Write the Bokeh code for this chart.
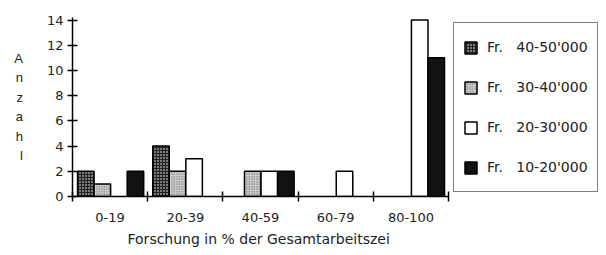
from bokeh.plotting import figure
from bokeh.models import FixedTicker, Legend, LegendItem, Title, Range1d, ColumnDataSource
from bokeh.embed import file_html
from bokeh.resources import INLINE

categories = ["0-19", "20-39", "40-59", "60-79", "80-100"]
series_names = ["Fr.   40-50'000", "Fr.   30-40'000", "Fr.   20-30'000", "Fr.   10-20'000"]
v_40_50 = [2, 4, 0, 0, 0]
v_30_40 = [1, 2, 2, 0, 0]
v_20_30 = [0, 3, 2, 2, 14]
v_10_20 = [2, 0, 2, 0, 11]
y_ticks = [0, 2, 4, 6, 8, 10, 12, 14]
x_title = "Forschung in % der Gesamtarbeitszei"
y_title = "A\nn\nz\na\nh\nl"

FONT = "Liberation Sans"
TICKFONT = "DejaVu Sans"
series_values = [v_40_50, v_30_40, v_20_30, v_10_20]
styles = [
    dict(fill_color="#222222", hatch_pattern="dot", hatch_color="white", hatch_scale=3, hatch_weight=1),
    dict(fill_color="#cfcfcf", hatch_pattern="dot", hatch_color="#555555", hatch_scale=2.5, hatch_weight=1),
    dict(fill_color="white"),
    dict(fill_color="#111111"),
]

p = figure(frame_width=376, frame_height=179, output_backend="svg", toolbar_location=None,
           x_range=Range1d(0, 5), y_range=Range1d(0, 14.2),
           min_border_left=72, min_border_right=0, min_border_top=17, min_border_bottom=0)
p.grid.visible = False
p.outline_line_color = None
p.background_fill_color = "white"

bar_w = 0.22
start = 0.067
items = []
for i, (name, vals) in enumerate(zip(series_names, series_values)):
    xs, tops = [], []
    for c, v in enumerate(vals):
        if v > 0:
            xs.append(c + start + bar_w * (i + 0.5))
            tops.append(v)
    src = ColumnDataSource(dict(x=xs, top=tops))
    r = p.vbar(x="x", top="top", width=bar_w, bottom=0, source=src,
               line_color="black", line_width=1.5, **styles[i])
    items.append(LegendItem(label=name, renderers=[r]))

# x axis
xa = p.xaxis[0]
xa.ticker = FixedTicker(ticks=[c + 0.5 for c in range(len(categories))],
                        minor_ticks=list(range(len(categories) + 1)))
xa.major_label_overrides = {c + 0.5: lab for c, lab in enumerate(categories)}
xa.major_tick_in = 0
xa.major_tick_out = 0
xa.minor_tick_in = 5
xa.minor_tick_out = 5
xa.minor_tick_line_color = "black"
xa.minor_tick_line_width = 1.5
xa.axis_line_width = 1.5
xa.axis_line_color = "black"
xa.major_label_standoff = 11
xa.major_label_text_font = TICKFONT
xa.major_label_text_font_size = "13px"
xa.major_label_text_color = "#222222"

# y axis
ya = p.yaxis[0]
ya.ticker = FixedTicker(ticks=y_ticks)
ya.minor_tick_line_color = None
ya.major_tick_in = 5
ya.major_tick_out = 5
ya.major_tick_line_width = 1.5
ya.major_tick_line_color = "black"
ya.axis_line_width = 1.5
ya.axis_line_color = "black"
ya.major_label_standoff = 4
ya.major_label_text_font = TICKFONT
ya.major_label_text_font_size = "13px"
ya.major_label_text_color = "#222222"
ya.axis_label = y_title
ya.axis_label_orientation = "horizontal"
ya.axis_label_text_font = FONT
ya.axis_label_text_font_size = "13px"
ya.axis_label_text_font_style = "normal"
ya.axis_label_text_color = "#222222"
ya.axis_label_text_line_height = 1.3
ya.axis_label_standoff = 21

t = Title(text=x_title, align="left", offset=55, text_font=TICKFONT, text_font_size="14px",
          text_font_style="normal", text_color="#222222", standoff=9)
p.add_layout(t, "below")

legend = Legend(items=items, location="top_left", margin=5, padding=9,
                border_line_color="black", border_line_width=1.5,
                glyph_width=15, glyph_height=15, label_height=30, spacing=10,
                label_standoff=9, label_text_font=TICKFONT, label_text_font_size="14px",
                label_text_color="#222222", background_fill_alpha=1)
p.add_layout(legend, "right")

open("out.html", "w").write(file_html(p, INLINE))
